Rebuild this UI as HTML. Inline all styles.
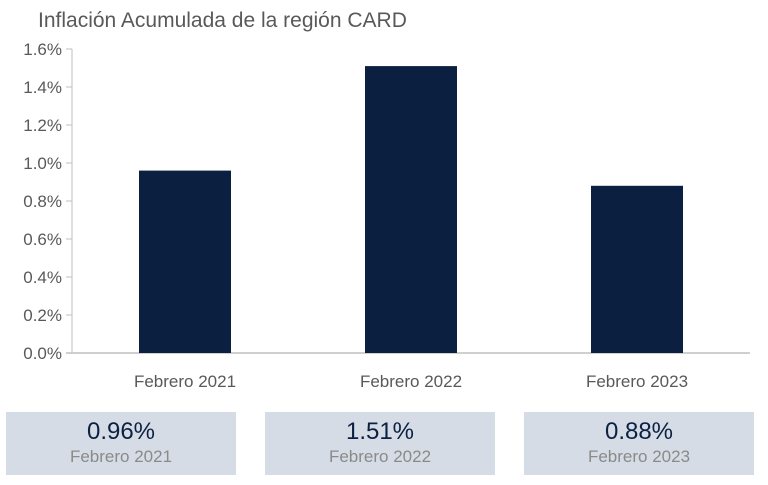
<!DOCTYPE html>
<html><head><meta charset="utf-8"><style>
body{margin:0;background:#fff;font-family:"Liberation Sans",sans-serif;}
#wrap{position:relative;width:768px;height:485px;overflow:hidden;}
.box{position:absolute;top:412px;width:230px;height:63px;background:#d6dce5;text-align:center;}
.box .v{font-size:24px;color:#0b2043;margin-top:6px;line-height:28px;}
.box .l{font-size:17px;color:#8a8a8a;line-height:22px;}
</style></head><body>
<div id="wrap">
<svg id="chart" width="768" height="410" style="position:absolute;left:0;top:0">
<text x="38" y="27" font-size="21" fill="#595959" font-family="Liberation Sans, sans-serif">Inflación Acumulada de la región CARD</text>
</svg>
<div class="box" style="left:6px"><div class="v">0.96%</div><div class="l">Febrero 2021</div></div>
<div class="box" style="left:265px"><div class="v">1.51%</div><div class="l">Febrero 2022</div></div>
<div class="box" style="left:524px"><div class="v">0.88%</div><div class="l">Febrero 2023</div></div>
</div>
<script>
const categories=["Febrero 2021","Febrero 2022","Febrero 2023"];
const values=[0.96,1.51,0.88];
const yTicks=[0,0.2,0.4,0.6,0.8,1.0,1.2,1.4,1.6];
const yTickLabels=["0.0%","0.2%","0.4%","0.6%","0.8%","1.0%","1.2%","1.4%","1.6%"];
const svg=document.getElementById('chart');
const NS='http://www.w3.org/2000/svg';
const x0=72,x1=750,y0=353,y1=49,yMax=1.6;
const y=v=>y0-(v/yMax)*(y0-y1);
const band=(x1-x0)/categories.length;
const xc=i=>x0+band*(i+0.5);
function mk(t,a){const e=document.createElementNS(NS,t);for(const k in a)e.setAttribute(k,a[k]);svg.appendChild(e);return e;}
yTicks.forEach((t,i)=>{
 const tk=mk('line',{x1:x0-6,x2:x0,y1:y(t),y2:y(t),stroke:'#bfbfbf'});
 
 
 const lb=mk('text',{x:x0-10,y:y(t)+6,'text-anchor':'end','font-size':17,fill:'#595959'});
 lb.textContent=yTickLabels[i];
 
 
});
const ya=mk('line',{x1:x0,x2:x0,y1:y1,y2:y0,stroke:'#bfbfbf'});


const xa=mk('line',{x1:x0-6,x2:x1,y1:y0,y2:y0,stroke:'#bfbfbf','stroke-width':1.5});


values.forEach((v,i)=>{
 const w=92;
 const b=mk('rect',{x:xc(i)-w/2,y:y(v),width:w,height:y0-y(v),fill:'#0b1f41'});
 
 
 const l=mk('text',{x:xc(i),y:387,'text-anchor':'middle','font-size':17,fill:'#595959'});
 l.textContent=categories[i];
 
 
});
</script>
</body></html>
